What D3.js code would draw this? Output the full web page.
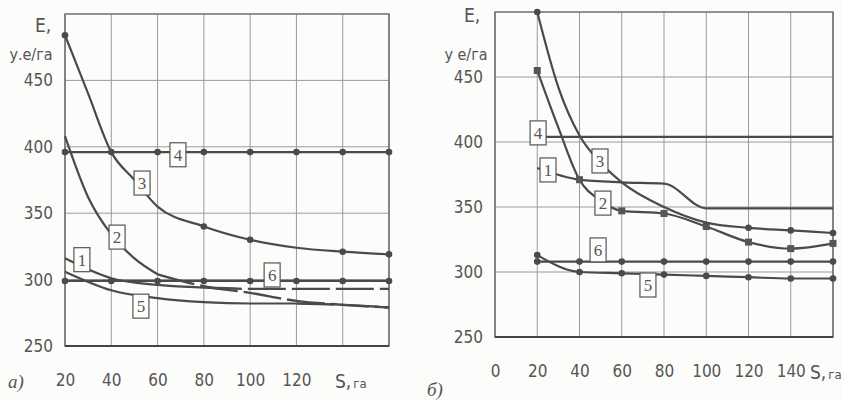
<!DOCTYPE html>
<html>
<head>
<meta charset="utf-8">
<script src="https://cdn.jsdelivr.net/npm/d3@7"></script>
<style>
  body { margin: 0; background: #fcfcfa; }
  svg text { fill: #555; }
  .tick text { font-family: "Liberation Sans Narrow", "DejaVu Sans Condensed", "Liberation Sans", sans-serif; font-size: 17px; }
  .lbl text { font-family: "Liberation Serif", serif; font-size: 17px; }
</style>
</head>
<body>
<svg id="chart" width="842" height="400"></svg>
<script>
// panel a) values, E (у.е/га) against S (га)
const sA = [20, 40, 60, 80, 100, 120, 140, 160];
const sA10 = [20, 30, 40, 50, 60, 80, 100, 120, 140, 160];
const eA1 = [316, 301, 296, 294, 293, 293, 293, 293];
const eA2 = [408, 362, 334, 316, 304, 295, 290, 284, 281, 279];
const eA3 = [484, 440, 396, 375, 355, 340, 330, 324, 321, 319];
const eA4 = [396, 396, 396, 396, 396, 396, 396, 396];
const eA5 = [306, 292, 286, 283, 282, 282, 281, 279];
const eA6 = [299, 299, 299, 299, 299, 299, 299, 299];

// panel б)
const sB = [20, 40, 60, 80, 100, 120, 140, 160];
const sB10 = [20, 30, 40, 50, 60, 80, 100, 120, 140, 160];
const eB1 = [380, 371, 369, 368, 349, 349, 349, 349];
const eB2 = [455, 411, 371, 355, 347, 345, 335, 323, 318, 322];
const eB3 = [500, 442, 405, 384, 369, 350, 338, 334, 332, 330];
const eB4 = [404, 404, 404, 404, 404, 404, 404, 404];
const eB5 = [313, 300, 299, 298, 297, 296, 295, 295];
const eB6 = [308, 308, 308, 308, 308, 308, 308, 308];

const yTicks = [250, 300, 350, 400, 450];
const xTicksA = [20, 40, 60, 80, 100, 120];
const xTicksB = [0, 20, 40, 60, 80, 100, 120, 140];

const svg = d3.select("#chart");
const ink = "#4a4a4a";
const grid = "#9a9a9a";
const sans = "Liberation Sans Narrow, DejaVu Sans Condensed, Liberation Sans, sans-serif";

function zip(xs, ys) { return xs.map((s, i) => ({ s: s, e: ys[i] })); }

function panel(opt) {
  const x = d3.scaleLinear().domain(opt.xDomain).range([opt.left, opt.right]);
  const y = d3.scaleLinear().domain([250, 500]).range([opt.bottom, opt.top]);
  const g = svg.append("g");

  // grid
  g.append("g").selectAll("line")
    .data(d3.range(opt.xDomain[0], opt.xDomain[1] + 1, 20))
    .join("line")
    .attr("x1", d => x(d)).attr("x2", d => x(d))
    .attr("y1", opt.top).attr("y2", opt.bottom)
    .attr("stroke", grid).attr("stroke-width", 1);
  g.append("g").selectAll("line")
    .data([300, 350, 400, 450])
    .join("line")
    .attr("x1", opt.left).attr("x2", opt.right)
    .attr("y1", d => y(d)).attr("y2", d => y(d))
    .attr("stroke", grid).attr("stroke-width", 1);
  g.append("rect")
    .attr("x", opt.left).attr("y", opt.top)
    .attr("width", opt.right - opt.left).attr("height", opt.bottom - opt.top)
    .attr("fill", "none").attr("stroke", "#666").attr("stroke-width", 1.4);
  g.append("line")
    .attr("x1", opt.left).attr("x2", opt.right)
    .attr("y1", opt.bottom).attr("y2", opt.bottom)
    .attr("stroke", "#444").attr("stroke-width", 2.2);

  // axes (labels only)
  g.append("g")
    .attr("transform", `translate(${opt.left - 12},0)`)
    .call(d3.axisLeft(y).tickValues(yTicks).tickSize(0).tickPadding(0))
    .call(a => a.select(".domain").remove());
  g.append("g")
    .attr("transform", `translate(0,${opt.bottom + 22})`)
    .call(d3.axisBottom(x).tickValues(opt.xTicks).tickSize(0).tickPadding(6))
    .call(a => a.select(".domain").remove());

  // curves
  const line = d3.line().x(d => x(d.s)).y(d => y(d.e)).curve(d3.curveMonotoneX);
  opt.series.forEach(sr => {
    const pts = zip(sr.s, sr.e);
    if (sr.dashFrom) {
      g.append("path").datum(pts.filter(p => p.s <= sr.dashFrom))
        .attr("d", line).attr("fill", "none").attr("stroke", ink).attr("stroke-width", 2.2);
      g.append("path").datum(pts.filter(p => p.s >= sr.dashFrom))
        .attr("d", line).attr("fill", "none").attr("stroke", ink).attr("stroke-width", 2.4)
        .attr("stroke-dasharray", "38,6");
    } else {
      g.append("path").datum(pts)
        .attr("d", line).attr("fill", "none").attr("stroke", ink).attr("stroke-width", 2.2);
    }
    const marked = pts.filter(p => sA.includes(p.s) && (sr.markAt ? sr.markAt.includes(p.s) : true));
    if (sr.mark === "dot") {
      g.append("g").selectAll("circle").data(marked)
        .join("circle").attr("cx", d => x(d.s)).attr("cy", d => y(d.e)).attr("r", 3.3).attr("fill", ink);
    } else if (sr.mark === "sq") {
      g.append("g").selectAll("rect").data(marked)
        .join("rect").attr("x", d => x(d.s) - 3.5).attr("y", d => y(d.e) - 3.5)
        .attr("width", 7).attr("height", 7).attr("fill", "#555");
    }
  });

  // numbered boxes
  const lb = g.append("g").attr("class", "lbl").selectAll("g").data(opt.labels).join("g")
    .attr("transform", d => `translate(${x(d.s)},${y(d.e)})`);
  lb.append("rect").attr("x", -8).attr("y", -12).attr("width", 16).attr("height", 24)
    .attr("fill", "#fdfdfb").attr("stroke", "#555").attr("stroke-width", 1.2);
  lb.append("text").attr("text-anchor", "middle").attr("y", 6).text(d => d.n);

  // axis titles
  g.append("text").attr("x", opt.eX).attr("y", opt.top + opt.eDy)
    .attr("text-anchor", "middle").attr("font-family", sans)
    .attr("font-size", 19).text("E,");
  g.append("text").attr("x", opt.uX).attr("y", 60)
    .attr("text-anchor", "middle").attr("font-family", sans)
    .attr("font-size", 16).text(opt.unit);
  const st = g.append("text").attr("x", opt.sX).attr("y", opt.bottom + 42)
    .attr("font-family", sans);
  st.append("tspan").attr("font-size", 19).text("S,");
  st.append("tspan").attr("font-size", 13).attr("dx", 2).text("га");
  g.append("text").attr("x", opt.tagX).attr("y", opt.tagY)
    .attr("font-family", "Liberation Serif, serif").attr("font-style", "italic")
    .attr("font-size", 19).text(opt.tag);
}

panel({
  xDomain: [20, 160], left: 65, right: 389, top: 14, bottom: 346,
  xTicks: xTicksA,
  series: [
    { s: sA, e: eA1, dashFrom: 80 },
    { s: sA10, e: eA2, dashFrom: 60 },
    { s: sA10, e: eA3, mark: "dot", markAt: [20, 80, 100, 140, 160] },
    { s: sA, e: eA4, mark: "dot" },
    { s: sA, e: eA5, dashFrom: 120 },
    { s: sA, e: eA6, mark: "dot" }
  ],
  labels: [
    { n: "1", s: 27.3, e: 315 }, { n: "2", s: 42.5, e: 332 }, { n: "3", s: 53.3, e: 372.7 },
    { n: "4", s: 68.8, e: 394 }, { n: "5", s: 52.8, e: 280 }, { n: "6", s: 109.5, e: 303.5 }
  ],
  eX: 43, eDy: 18, uX: 31, unit: "у.е/га", sX: 335, tag: "а)", tagX: 8, tagY: 388
});

panel({
  xDomain: [0, 160], left: 495, right: 833, top: 12, bottom: 337,
  xTicks: xTicksB,
  series: [
    { s: sB, e: eB1 },
    { s: sB10, e: eB2, mark: "sq" },
    { s: sB10, e: eB3, mark: "dot", markAt: [20, 120, 140, 160] },
    { s: sB, e: eB4 },
    { s: sB, e: eB5, mark: "dot" },
    { s: sB, e: eB6, mark: "dot" }
  ],
  labels: [
    { n: "1", s: 25.1, e: 378.5 }, { n: "2", s: 51.1, e: 353 }, { n: "3", s: 49.7, e: 385.4 },
    { n: "4", s: 20.4, e: 407 }, { n: "5", s: 72.4, e: 290 }, { n: "6", s: 48.8, e: 317 }
  ],
  eX: 472, eDy: 10, uX: 466, unit: "у е/га", sX: 810, tag: "б)", tagX: 427, tagY: 396
});
</script>
</body>
</html>
